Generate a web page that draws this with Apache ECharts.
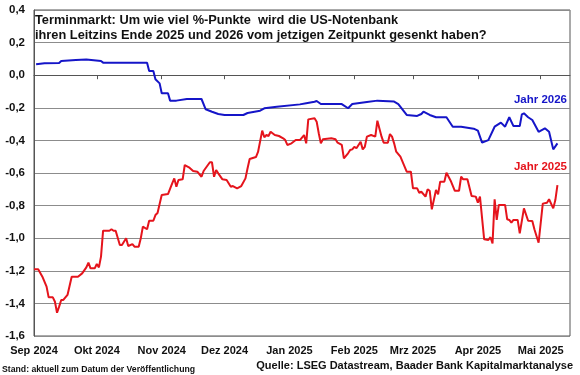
<!DOCTYPE html>
<html>
<head>
<meta charset="utf-8">
<script src="https://cdn.jsdelivr.net/npm/echarts@6/dist/echarts.min.js"></script>
<style>
  html, body { margin: 0; padding: 0; background: #fff; }
  #chart { width: 580px; height: 375px; }
</style>
</head>
<body>
<div id="chart"></div>
<script>
// Jahr 2026 (blau)
const dates2026 = [
  '2024-09-02', '2024-09-06', '2024-09-13', '2024-09-14', '2024-09-21', '2024-09-26',
  '2024-10-03', '2024-10-04', '2024-10-25', '2024-10-26', '2024-10-28', '2024-10-29',
  '2024-10-31', '2024-11-01', '2024-11-04', '2024-11-05', '2024-11-08', '2024-11-13',
  '2024-11-20', '2024-11-22', '2024-11-25', '2024-11-28', '2024-12-01', '2024-12-10',
  '2024-12-12', '2024-12-18', '2024-12-20', '2024-12-26', '2025-01-06', '2025-01-09',
  '2025-01-13', '2025-01-14', '2025-01-16', '2025-01-26', '2025-01-29', '2025-01-31',
  '2025-02-07', '2025-02-12', '2025-02-20', '2025-02-22', '2025-02-26', '2025-03-03',
  '2025-03-05', '2025-03-06', '2025-03-09', '2025-03-12', '2025-03-17', '2025-03-20',
  '2025-03-24', '2025-03-30', '2025-04-01', '2025-04-03', '2025-04-06', '2025-04-09',
  '2025-04-12', '2025-04-14', '2025-04-16', '2025-04-18', '2025-04-21', '2025-04-22',
  '2025-04-23', '2025-04-25', '2025-04-27', '2025-04-30', '2025-05-03', '2025-05-05',
  '2025-05-07', '2025-05-09'
];
const values2026 = [
  0.067, 0.073, 0.075, 0.087, 0.093, 0.096,
  0.087, 0.077, 0.077, 0.026, 0.026, -0.025,
  -0.05, -0.111, -0.111, -0.156, -0.156, -0.146,
  -0.146, -0.209, -0.224, -0.238, -0.244, -0.244,
  -0.232, -0.218, -0.203, -0.193, -0.179, -0.172,
  -0.163, -0.158, -0.177, -0.177, -0.203, -0.177,
  -0.164, -0.156, -0.162, -0.177, -0.244, -0.25,
  -0.238, -0.224, -0.244, -0.258, -0.258, -0.316,
  -0.316, -0.328, -0.34, -0.414, -0.398, -0.316,
  -0.291, -0.316, -0.258, -0.312, -0.312, -0.24,
  -0.234, -0.258, -0.275, -0.347, -0.326, -0.347,
  -0.455, -0.418
];

// Jahr 2025 (rot)
const dates2025 = [
  '2024-09-01', '2024-09-03', '2024-09-05', '2024-09-07', '2024-09-08', '2024-09-10',
  '2024-09-11', '2024-09-12', '2024-09-13', '2024-09-14', '2024-09-15', '2024-09-17',
  '2024-09-19', '2024-09-22', '2024-09-24', '2024-09-26', '2024-09-27', '2024-09-28',
  '2024-09-30', '2024-10-01', '2024-10-02', '2024-10-03', '2024-10-04', '2024-10-07',
  '2024-10-08', '2024-10-09', '2024-10-10', '2024-10-12', '2024-10-13', '2024-10-15',
  '2024-10-16', '2024-10-18', '2024-10-19', '2024-10-21', '2024-10-22', '2024-10-23',
  '2024-10-25', '2024-10-26', '2024-10-28', '2024-10-29', '2024-10-30', '2024-11-01',
  '2024-11-04', '2024-11-06', '2024-11-07', '2024-11-08', '2024-11-09', '2024-11-11',
  '2024-11-12', '2024-11-14', '2024-11-16', '2024-11-18', '2024-11-20', '2024-11-21',
  '2024-11-24', '2024-11-25', '2024-11-26', '2024-11-27', '2024-11-28', '2024-11-30',
  '2024-12-02', '2024-12-04', '2024-12-05', '2024-12-07', '2024-12-09', '2024-12-11',
  '2024-12-12', '2024-12-13', '2024-12-16', '2024-12-17', '2024-12-19', '2024-12-20',
  '2024-12-21', '2024-12-22', '2024-12-23', '2024-12-25', '2024-12-27', '2024-12-29',
  '2024-12-30', '2024-12-31', '2025-01-02', '2025-01-04', '2025-01-06', '2025-01-08',
  '2025-01-09', '2025-01-10', '2025-01-13', '2025-01-14', '2025-01-15', '2025-01-16',
  '2025-01-17', '2025-01-21', '2025-01-23', '2025-01-24', '2025-01-26', '2025-01-27',
  '2025-01-29', '2025-01-30', '2025-01-31', '2025-02-01', '2025-02-02', '2025-02-04',
  '2025-02-05', '2025-02-06', '2025-02-07', '2025-02-09', '2025-02-11', '2025-02-12',
  '2025-02-14', '2025-02-15', '2025-02-17', '2025-02-18', '2025-02-19', '2025-02-20',
  '2025-02-21', '2025-02-23', '2025-02-25', '2025-02-26', '2025-02-28', '2025-03-01',
  '2025-03-03', '2025-03-04', '2025-03-05', '2025-03-07', '2025-03-08', '2025-03-09',
  '2025-03-10', '2025-03-12', '2025-03-13', '2025-03-14', '2025-03-16', '2025-03-17',
  '2025-03-19', '2025-03-21', '2025-03-23', '2025-03-24', '2025-03-25', '2025-03-27',
  '2025-03-29', '2025-03-31', '2025-04-01', '2025-04-02', '2025-04-04', '2025-04-06',
  '2025-04-07', '2025-04-08', '2025-04-09', '2025-04-10', '2025-04-11', '2025-04-14',
  '2025-04-15', '2025-04-16', '2025-04-17', '2025-04-18', '2025-04-20', '2025-04-21',
  '2025-04-23', '2025-04-25', '2025-04-27', '2025-04-28', '2025-04-30', '2025-05-02',
  '2025-05-04', '2025-05-05', '2025-05-07', '2025-05-08', '2025-05-09'
];
const values2025 = [
  -1.191, -1.191, -1.236, -1.297, -1.363, -1.363,
  -1.39, -1.457, -1.42, -1.379, -1.379, -1.348,
  -1.236, -1.236, -1.216, -1.179, -1.15, -1.185,
  -1.185, -1.158, -1.179, -1.113, -0.954, -0.954,
  -0.945, -0.954, -0.954, -1.042, -1.042, -1.0,
  -1.048, -1.036, -1.052, -1.052, -1.0, -0.929,
  -0.945, -0.893, -0.893, -0.858, -0.845, -0.735,
  -0.729, -0.663, -0.633, -0.684, -0.643, -0.639,
  -0.551, -0.565, -0.588, -0.592, -0.623, -0.588,
  -0.534, -0.534, -0.623, -0.582, -0.602, -0.639,
  -0.643, -0.684, -0.68, -0.694, -0.68, -0.633,
  -0.571, -0.514, -0.502, -0.471, -0.34, -0.381,
  -0.367, -0.373, -0.347, -0.367, -0.373, -0.387,
  -0.398, -0.428, -0.418, -0.398, -0.398, -0.367,
  -0.418, -0.271, -0.264, -0.285, -0.356, -0.418,
  -0.393, -0.387, -0.393, -0.414, -0.428, -0.51,
  -0.479, -0.459, -0.455, -0.439, -0.448, -0.408,
  -0.455, -0.439, -0.377, -0.367, -0.377, -0.279,
  -0.377, -0.414, -0.414, -0.361, -0.377, -0.418,
  -0.469, -0.5, -0.561, -0.592, -0.592, -0.694,
  -0.694, -0.721, -0.715, -0.745, -0.7, -0.709,
  -0.823, -0.704, -0.731, -0.653, -0.653, -0.598,
  -0.647, -0.709, -0.709, -0.623, -0.639, -0.639,
  -0.741, -0.745, -0.782, -0.745, -1.007, -1.011,
  -0.994, -1.032, -0.761, -0.888, -0.796, -0.796,
  -0.884, -0.888, -0.905, -0.888, -0.888, -0.97,
  -0.817, -0.893, -0.894, -0.945, -1.028, -0.788,
  -0.782, -0.761, -0.817, -0.766, -0.674
];

const monthNames = ['Jan', 'Feb', 'Mrz', 'Apr', 'Mai', 'Jun', 'Jul', 'Aug', 'Sep', 'Okt', 'Nov', 'Dez'];
const yTicks = { min: -1.6, max: 0.4, step: 0.2 };

const titleLines = [
  'Terminmarkt: Um wie viel %-Punkte  wird die US-Notenbank',
  'ihren Leitzins Ende 2025 und 2026 vom jetzigen Zeitpunkt gesenkt haben?'
];

const fontFam = '"Liberation Sans", Arial, sans-serif';
const chart = echarts.init(document.getElementById('chart'), null, { renderer: 'canvas' });

const option = {
  animation: false,
  backgroundColor: '#fff',
  grid: {
    left: 34,
    right: 10,
    top: 10,
    bottom: 39,
    show: true,
    borderColor: '#555',
    borderWidth: 1
  },
  title: {
    text: titleLines.join('\n'),
    left: 30,
    top: 8,
    textStyle: {
      fontFamily: fontFam,
      fontSize: 12.8,
      fontWeight: 'bold',
      color: '#111',
      lineHeight: 15
    }
  },
  xAxis: {
    type: 'time',
    min: '2024-09-01',
    max: '2025-05-15',
    minInterval: 28 * 86400000,
    maxInterval: 31 * 86400000,
    axisLine: { show: true, lineStyle: { color: '#555', width: 1 } },
    axisTick: { show: true, length: 4, lineStyle: { color: '#555' } },
    splitLine: { show: false },
    axisLabel: {
      color: '#111',
      fontFamily: fontFam,
      fontSize: 11,
      fontWeight: 'bold',
      margin: 9,
      showMaxLabel: false,
      formatter: function (val) {
        const d = new Date(val);
        return monthNames[d.getMonth()] + ' ' + d.getFullYear();
      }
    }
  },
  yAxis: {
    type: 'value',
    min: yTicks.min,
    max: yTicks.max,
    interval: yTicks.step,
    axisLine: { show: true, lineStyle: { color: '#555' } },
    axisTick: { show: false },
    splitLine: { show: true, lineStyle: { color: '#8c8c8c', width: 1 } },
    axisLabel: {
      color: '#111',
      fontFamily: fontFam,
      fontSize: 11.5,
      fontWeight: 'bold',
      margin: 9,
      formatter: function (v) {
        return v.toFixed(1).replace('.', ',').replace('-0,0', '0,0');
      }
    }
  },
  series: [
    {
      name: 'Jahr 2026',
      type: 'line',
      showSymbol: false,
      data: dates2026.map((d, i) => [d, values2026[i]]),
      lineStyle: { color: '#1515c8', width: 2 },
      itemStyle: { color: '#1515c8' }
    },
    {
      name: 'Jahr 2025',
      type: 'line',
      showSymbol: false,
      data: dates2025.map((d, i) => [d, values2025[i]]),
      lineStyle: { color: '#e5141c', width: 2 },
      itemStyle: { color: '#e5141c' }
    }
  ],
  graphic: [
    {
      type: 'text',
      right: 13,
      top: 94,
      style: { text: 'Jahr 2026', fill: '#1515c8', font: 'bold 11.5px ' + fontFam }
    },
    {
      type: 'text',
      right: 13,
      top: 161,
      style: { text: 'Jahr 2025', fill: '#e5141c', font: 'bold 11.5px ' + fontFam }
    },
    {
      type: 'text',
      right: 7,
      top: 360,
      style: { text: 'Quelle: LSEG Datastream, Baader Bank Kapitalmarktanalyse', fill: '#111', font: 'bold 11px ' + fontFam }
    },
    {
      type: 'text',
      left: 2,
      top: 365,
      style: { text: 'Stand: aktuell zum Datum der Veröffentlichung', fill: '#111', font: 'bold 8.7px ' + fontFam }
    }
  ]
};

chart.setOption(option);
</script>
</body>
</html>
